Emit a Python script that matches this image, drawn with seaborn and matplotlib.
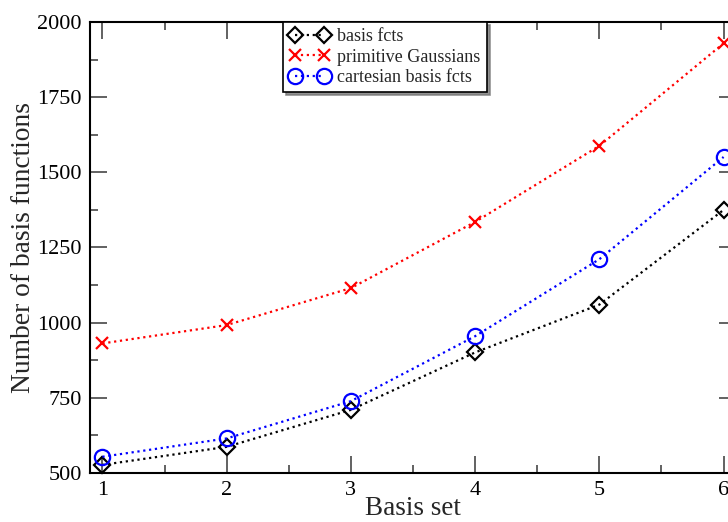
import matplotlib
matplotlib.use("Agg")
import matplotlib.pyplot as plt
import seaborn as sns
import pandas as pd
from matplotlib.ticker import MultipleLocator

basis_sets = [1, 2, 3, 4, 5, 6]
basis_fcts = [527, 587, 710, 901, 1060, 1375]
primitive_gaussians = [931, 992, 1115, 1335, 1588, 1929]
cartesian_fcts = [554, 615, 739, 955, 1211, 1551]

series_names = ["basis fcts", "primitive Gaussians", "cartesian basis fcts"]
xtick_labels = ["1", "2", "3", "4", "5", "6"]

df = pd.DataFrame({
    "Basis set": basis_sets * 3,
    "count": basis_fcts + primitive_gaussians + cartesian_fcts,
    "series": [series_names[0]] * 6 + [series_names[1]] * 6 + [series_names[2]] * 6,
})

sns.set_style("ticks")
plt.rcParams["font.family"] = ["Liberation Serif", "DejaVu Serif"]

fig = plt.figure(figsize=(7.28, 5.22), dpi=100)
ax = fig.add_axes([90 / 728, 49 / 522, 646 / 728, 451 / 522])

styles = {
    series_names[0]: dict(color="black", marker="D", ms=8, mfc="none", mew=1.6),
    series_names[1]: dict(color="#ff0000", marker="x", ms=8, mew=1.6),
    series_names[2]: dict(color="#0000ff", marker="o", ms=11, mfc="none", mew=1.6),
}

for name in series_names:
    sub = df[df["series"] == name]
    st = styles[name]
    sns.lineplot(data=sub, x="Basis set", y="count", ax=ax, label=name,
                 color=st["color"], linestyle=":", linewidth=1.6,
                 marker=st["marker"], markersize=st["ms"],
                 markerfacecolor=st.get("mfc", st["color"]),
                 markeredgecolor=st["color"], markeredgewidth=st["mew"],
                 clip_on=False, zorder=3)

ax.set_xlim(0.9, 6.1)
ax.set_ylim(500, 2000)
ax.set_xticks(basis_sets)
ax.set_xticklabels(xtick_labels)
ax.xaxis.set_minor_locator(MultipleLocator(0.5))
ax.yaxis.set_major_locator(MultipleLocator(250))
ax.yaxis.set_minor_locator(MultipleLocator(125))

for sp in ax.spines.values():
    sp.set_visible(True)
    sp.set_color("black")
    sp.set_linewidth(1.5)

ax.tick_params(which="both", direction="in", top=True, right=True,
               color="#555555", width=1.3, labelsize=16, labelcolor="black")
ax.tick_params(which="major", length=12, pad=6)
ax.tick_params(which="minor", length=6)

ax.set_xlabel("Basis set", fontsize=19.5, labelpad=-3)
ax.set_ylabel("Number of basis functions", fontsize=19.8, labelpad=1)

leg = ax.legend(loc="upper left", bbox_to_anchor=(193 / 646, 1.0),
                numpoints=2, handlelength=2.2, fontsize=13,
                frameon=True, fancybox=False,
                shadow={"color": "#777777", "alpha": 0.8},
                borderpad=0.35, labelspacing=0.18, handletextpad=0.45,
                borderaxespad=0)
leg.get_frame().set_edgecolor("black")
leg.get_frame().set_linewidth(1.2)

fig.savefig("out.png", dpi=100)
